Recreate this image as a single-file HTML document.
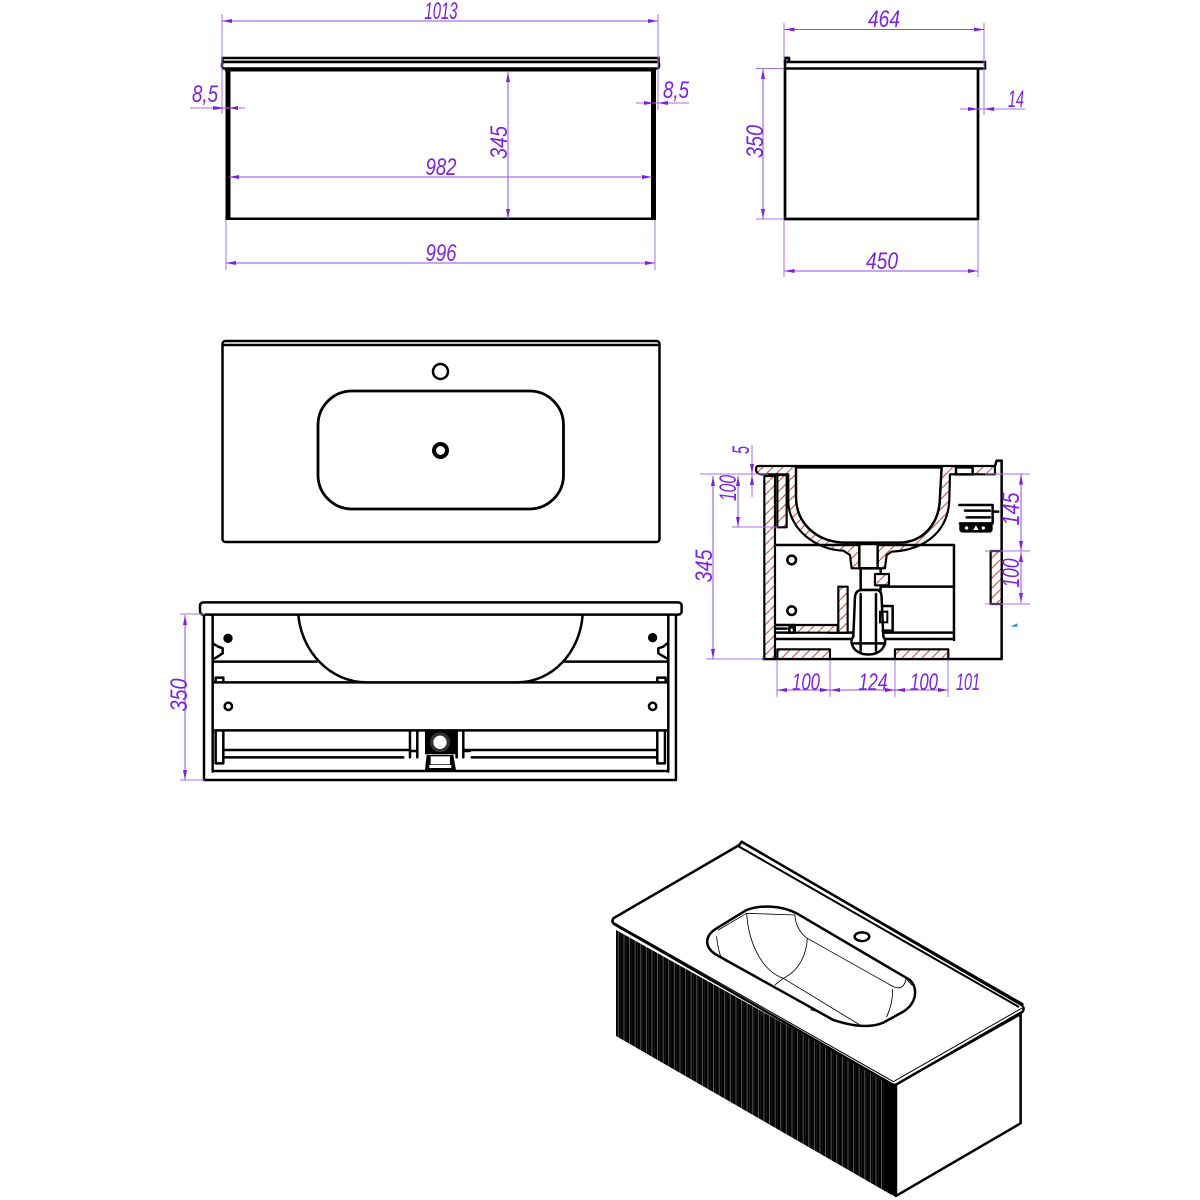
<!DOCTYPE html>
<html><head><meta charset="utf-8"><style>
html,body{margin:0;padding:0;background:#fff}
svg{display:block}
.d{stroke:#a86fe8;stroke-width:1;fill:none}
.a{stroke:#8f4fe6;stroke-width:1;fill:none;marker-start:url(#m);marker-end:url(#m)}
.t{font-family:"Liberation Sans",sans-serif;font-style:italic;font-size:24px;fill:#7b22e0;text-anchor:middle}
.k{fill:none;stroke:#000;stroke-width:2.700;stroke-linejoin:round;stroke-linecap:round}
.z .k{stroke-width:7.500}
.z .n{stroke-width:3}
.z .f{fill:#fff}
.z .h{fill:url(#hz);stroke:#000;stroke-width:6.500;stroke-linejoin:round}
.ar{fill:#7b22e0}
</style></head><body>
<svg width="1200" height="1200" viewBox="0 0 1200 1200" xmlns="http://www.w3.org/2000/svg">
<defs>
<marker id="m" viewBox="0 0 10 4" refX="10" refY="2" markerWidth="10" markerHeight="4" markerUnits="userSpaceOnUse" orient="auto-start-reverse"><path d="M0 0L10 2L0 4Z" fill="#7b22e0"/></marker>
<pattern id="hz" width="30" height="30" patternUnits="userSpaceOnUse"><rect width="30" height="30" fill="#fff"/><path d="M-3 33L33 -3" stroke="#dc5a48" stroke-width="3.500"/></pattern>
<pattern id="fl" width="5.600" height="10" patternUnits="userSpaceOnUse"><rect width="5.600" height="10" fill="#030303"/><rect x="2" width=".7" height="10" fill="#777"/><rect x="4.300" width=".4" height="10" fill="#2a2a2a"/></pattern>
</defs>

<!-- FRONT -->
<rect x="222.500" y="58" width="436" height="4" fill="#fff" stroke="#000" stroke-width="2.500"/>
<rect x="222" y="62" width="437" height="6.500" rx="2" fill="#fff" stroke="#000" stroke-width="2.500"/>
<rect x="225" y="68.500" width="431" height="3" fill="#000"/>
<rect x="225.500" y="70" width="5" height="150" fill="#000"/>
<rect x="651" y="70" width="5" height="150" fill="#000"/>
<rect x="226" y="217.500" width="430" height="2.500" fill="#000"/>
<path class="d" d="M222 14V114M658 14V110M226 220V270M655 220V270"/>
<path class="a" d="M222 21H658"/>
<path class="d" d="M190 108H245M636 103H689"/>
<polygon class="ar" points="213,106 225,108 213,110"/><polygon class="ar" points="238,106 229,108 238,110"/>
<polygon class="ar" points="644,101 654,103 644,105"/><polygon class="ar" points="668,101 658,103 668,105"/>
<path class="a" d="M508 72V219"/>
<path class="a" d="M229 177H652"/>
<path class="a" d="M226 263H655"/>
<text class="t" x="441" y="19" textLength="33" lengthAdjust="spacingAndGlyphs">1013</text>
<text class="t" x="205" y="102" textLength="26" lengthAdjust="spacingAndGlyphs">8,5</text>
<text class="t" x="676" y="98" textLength="26" lengthAdjust="spacingAndGlyphs">8,5</text>
<text class="t" x="441" y="175" textLength="31" lengthAdjust="spacingAndGlyphs">982</text>
<text class="t" x="441" y="261" textLength="31" lengthAdjust="spacingAndGlyphs">996</text>
<text class="t" transform="translate(507,142.500) rotate(-90)" textLength="33" lengthAdjust="spacingAndGlyphs">345</text>

<!-- SIDE -->
<path class="k" d="M785 68V219H978V69"/>
<rect x="785" y="62" width="200" height="6.500" fill="#fff" stroke="#000" stroke-width="2.500"/>
<path class="k" d="M785 62V58H789V61"/>
<path class="d" d="M784 23V60M984 23V115M756 68.500H784M756 219H784M784 220V277M978 220V277M960 109H1025"/>
<path class="a" d="M784.500 29.500H984"/>
<path class="a" d="M763 69V219"/>
<path class="a" d="M784.500 271H978"/>
<polygon class="ar" points="968,107 978.500,109 968,111"/><polygon class="ar" points="994,107 984,109 994,111"/>
<text class="t" x="884" y="27" textLength="32" lengthAdjust="spacingAndGlyphs">464</text>
<text class="t" x="882" y="269" textLength="32" lengthAdjust="spacingAndGlyphs">450</text>
<text class="t" x="1016" y="107" textLength="16" lengthAdjust="spacingAndGlyphs">14</text>
<text class="t" transform="translate(763,141.500) rotate(-90)" textLength="33" lengthAdjust="spacingAndGlyphs">350</text>

<!-- PLAN -->
<rect x="222.500" y="341" width="437" height="201" rx="3" fill="#fff" stroke="#000" stroke-width="2.500"/>
<path d="M223 345H659" stroke="#000" stroke-width="2.500"/>
<rect x="318" y="391" width="245.500" height="118" rx="34" fill="#fff" stroke="#000" stroke-width="2.800"/>
<circle cx="440.500" cy="371.500" r="7.500" fill="#fff" stroke="#000" stroke-width="2.500"/>
<circle cx="440.500" cy="450.500" r="6.500" fill="#fff" stroke="#000" stroke-width="4"/>

<!-- REAR -->
<g class="z" transform="translate(170,595) scale(.3333)">
<path class="k" d="M102 58V555H1518V58"/>
<path class="k" d="M128 60V530M1495 60V530"/>
<path class="k" d="M130 200H440M1185 200H1492"/>
<path class="k" d="M130 262H1492"/>
<path class="k" d="M130 406H1492"/>
<path class="k f" d="M385 60C395 170 480 262 590 262H1040C1150 262 1230 170 1238 60"/>
<rect class="k f" x="90" y="22" width="1445" height="37" rx="10"/>
<circle cx="174" cy="130" r="14" fill="#000"/><circle cx="1448" cy="128" r="14" fill="#000"/>
<circle class="k" cx="175" cy="334" r="11"/><circle class="k" cx="1448" cy="334" r="11"/>
<path class="k" d="M128 145L145 155L158 160V175L135 190M1492 145L1480 155L1465 160V175L1490 190"/>
<path class="k" d="M137 262V248H160V262M1462 262V248H1487V262"/>
<path class="k" d="M137 408V505H160V408M1462 408V505H1485V408"/>
<path class="k" d="M160 465H720M885 465H1460M160 487H700M905 487H1460"/>
<path class="k" d="M720 408V487M742 408V487M722 468H742M860 408V487M880 408V487M880 468H900"/>
<rect x="765" y="408" width="92" height="70" fill="#000"/>
<path d="M770 480L765 525H858L850 480Z" fill="#000"/>
<circle cx="810" cy="442" r="30" fill="#333"/>
<circle cx="810" cy="442" r="20" fill="#fff"/>
<rect x="782" y="484" width="58" height="24" fill="#fff"/>
<rect x="778" y="510" width="66" height="9" fill="#fff"/>
<path class="k" d="M130 528H1492"/>
</g>
<path class="d" d="M180 614H205M180 780H205"/>
<path class="a" d="M185 615V780"/>
<text class="t" transform="translate(187,695) rotate(-90)" textLength="33" lengthAdjust="spacingAndGlyphs">350</text>

<!-- SECTION -->
<g class="z" transform="translate(700,440) scale(.3333)">
<path class="k" d="M190 657H905V62H890L885 78"/>
<path class="h" d="M175 78H885V103H750L748 180C745 270 680 330 575 335L560 345L555 385H455L450 345L430 332C350 330 270 270 265 190V103H185C172 103 168 95 168 88C168 82 170 78 175 78Z"/>
<path class="k f" d="M288 82V170C288 250 350 308 440 308H595C670 308 720 250 720 170L725 82Z"/>
<rect class="k f" x="768" y="82" width="50" height="21"/>
<rect class="h" x="193" y="108" width="32" height="549"/>
<rect class="h" x="232" y="105" width="28" height="157"/>
<rect class="k f" x="478" y="312" width="55" height="73"/>
<path class="k" d="M225 315H478M533 315H762V600"/>
<path class="k" d="M545 440H762"/>
<path class="k" d="M228 597H757M385 578H757"/>
<circle class="k" cx="275" cy="360" r="13"/><circle class="k" cx="275" cy="512" r="13"/>
<rect class="h" x="415" y="440" width="28" height="138"/>
<rect class="h" x="285" y="555" width="128" height="23"/>
<path class="k" d="M228 555H285M228 578H285M228 566H260"/>
<rect class="k f" x="268" y="562" width="14" height="16"/>
<rect class="h" x="232" y="628" width="158" height="29"/>
<rect class="h" x="585" y="628" width="160" height="29"/>
<rect class="h" x="872" y="333" width="33" height="159"/>
<path class="k f" d="M482 385H542V450H482Z"/>
<rect class="h" x="525" y="402" width="42" height="34"/>
<path class="k f" d="M465 470Q468 450 485 450H530Q545 450 545 475L550 590C558 600 558 610 548 625C530 650 480 650 462 625C452 610 452 600 460 590Z"/>
<path class="k" d="M482 462V632M528 462V632M462 610H550"/>
<path class="k" d="M548 498H578V572H548"/>
<rect x="540" y="515" width="22" height="32" fill="none" stroke="#000" stroke-width="6"/>
<path class="k" d="M778 195H878V250H780"/>
<path class="k" d="M795 212H870M800 232H870M878 215H895"/>
<path d="M778 250H878V268Q878 278 865 278H792Q778 278 778 268Z" fill="#000"/>
<circle cx="800" cy="264" r="5" fill="#fff"/><circle cx="850" cy="264" r="5" fill="#fff"/><path d="M820 270L828 256L836 270Z" fill="#fff"/>
<polygon points="932,560 952,550 952,560" fill="#1787e0"/>
</g>
<path class="d" d="M752 445V497M700 474H768M732 527H778M706 659H764M985 474H1030M985 551H1030M985 604H1030M777 660V697M830 660V697M895 660V697M948 660V697"/>
<polygon class="ar" points="750,464 754,464 752,474"/><polygon class="ar" points="750,485 754,485 752,475"/>
<path class="a" d="M738 476V527"/>
<path class="a" d="M713 476V659"/>
<path class="a" d="M1021 474.500V551"/>
<path class="a" d="M1021 552V603"/>
<path class="a" d="M777 690H830"/><path class="a" d="M830 690H895"/><path class="a" d="M895 690H948"/>
<text class="t" transform="translate(749,450) rotate(-90)" textLength="8" lengthAdjust="spacingAndGlyphs">5</text>
<text class="t" transform="translate(736,488) rotate(-90)" textLength="26" lengthAdjust="spacingAndGlyphs">100</text>
<text class="t" transform="translate(712,566) rotate(-90)" textLength="33" lengthAdjust="spacingAndGlyphs">345</text>
<text class="t" transform="translate(1019,509) rotate(-90)" textLength="33" lengthAdjust="spacingAndGlyphs">145</text>
<text class="t" transform="translate(1019,573) rotate(-90)" textLength="29" lengthAdjust="spacingAndGlyphs">100</text>
<text class="t" x="806" y="690" textLength="28" lengthAdjust="spacingAndGlyphs">100</text>
<text class="t" x="873" y="690" textLength="29" lengthAdjust="spacingAndGlyphs">124</text>
<text class="t" x="924" y="690" textLength="28" lengthAdjust="spacingAndGlyphs">100</text>
<text class="t" x="968" y="690" textLength="24" lengthAdjust="spacingAndGlyphs">101</text>

<!-- ISO -->
<polygon points="616,930 896,1086 896,1197 890,1194 616,1036" fill="url(#fl)"/>
<polygon points="884,1080 896,1086 896,1196 884,1189" fill="#000"/>
<g class="z" transform="translate(600,830) scale(.3333)">
<path class="k f" d="M888 762L1262 552V880L888 1098Z"/>
<path class="k f" d="M418 45L40 265Q34 275 42 282L875 762Q885 768 895 760L1268 545Q1275 535 1265 525L425 35Z"/>
<path class="k n" d="M42 278L880 755L1265 535"/>
<path class="k" d="M425 36L1268 522M414 48L1255 530" style="stroke-width:6"/>
<path class="k" d="M322 330Q325 310 350 295L440 240C480 225 540 225 590 250L930 450C955 475 950 520 910 545L850 578C810 595 760 590 700 570L350 375C325 360 320 345 322 330Z"/>
<path class="k n" d="M440 250C445 330 480 420 550 445C600 420 620 370 622 325M585 255C585 280 600 310 622 325L880 470C900 480 915 470 918 445M525 465L550 445L780 585M878 478C878 520 865 550 860 560M350 320C352 350 360 375 365 385M355 300L440 250L585 255M918 445L935 465" style="stroke-width:2.500"/>
<path d="M630 540Q645 530 660 548Z" fill="#000"/>
<ellipse class="k" cx="786" cy="320" rx="22" ry="13"/>
<ellipse cx="789" cy="323" rx="12" ry="7" fill="#fff"/>
</g>
</svg>
</body></html>
